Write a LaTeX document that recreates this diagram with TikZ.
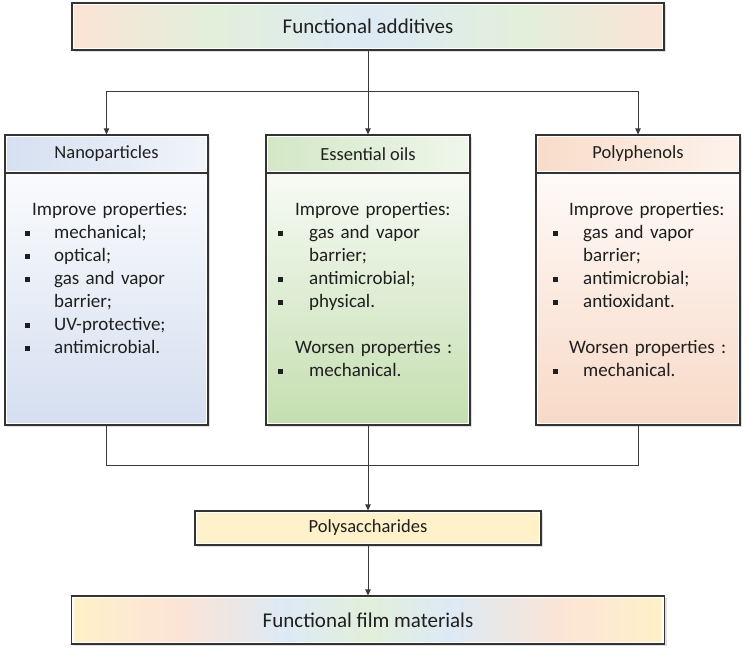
\documentclass[tikz,border=0pt]{standalone}
\usepackage{fontspec}
\setmainfont{Carlito}
\usetikzlibrary{arrows.meta,shadows}

\definecolor{ink}{HTML}{1F1F1F}
\definecolor{frame}{HTML}{333333}
\definecolor{wire}{HTML}{3A3A3A}
\definecolor{peach}{HTML}{FBE4D6}
\definecolor{mint}{HTML}{E2EFDB}
\definecolor{sky}{HTML}{DDEAF5}
\definecolor{cream}{HTML}{FFF1C9}
\definecolor{nanobody}{HTML}{D5DFF0}
\definecolor{nanohead}{HTML}{D6E0F1}
\definecolor{oilsbody}{HTML}{C4DEB0}
\definecolor{oilshead}{HTML}{D3E7C6}
\definecolor{polybody}{HTML}{F8D9C7}
\definecolor{polyhead}{HTML}{F9DCCA}

\pgfdeclarehorizontalshading{additives}{100bp}{color(0bp)=(peach); color(25bp)=(peach);
  color(37bp)=(mint); color(50bp)=(sky); color(63bp)=(mint); color(75bp)=(peach); color(100bp)=(peach)}
\pgfdeclarehorizontalshading{filmshade}{100bp}{color(0bp)=(cream); color(25bp)=(cream);
  color(34bp)=(peach); color(43bp)=(sky); color(50bp)=(mint); color(57bp)=(sky);
  color(66bp)=(peach); color(75bp)=(cream); color(100bp)=(cream)}

% bullet square of the property lists
\newcommand{\bul}[1]{\makebox[#1][l]{\rule[2pt]{5pt}{5pt}}}

\tikzset{
  inset/.style={path picture={\shade[#1]
      ([shift={(2.5pt,-2.5pt)}]path picture bounding box.north west) rectangle
      ([shift={(-2.5pt,2.5pt)}]path picture bounding box.south east);}},
  headbox/.style={draw=frame, line width=1.2pt, fill=white, inner sep=0pt, text=ink,
    font=\fontsize{18.5}{22}\selectfont},
  box/.style={headbox, drop shadow={opacity=0.25, shadow xshift=2pt, shadow yshift=-2pt}},
  txt/.style={inner sep=0pt, text width=190pt, align=left, anchor=base west, text=ink,
    font=\fontsize{19}{23}\selectfont},
  conn/.style={draw=wire, line width=0.8pt},
  arr/.style={conn, -{Triangle[length=6pt,width=5.5pt]}}
}

\begin{document}
\begin{tikzpicture}[x=1pt, y=-1pt]
  \useasboundingbox (0,0) rectangle (749,654);

  % top
  \node[box, inset={shading=additives}, minimum width=592pt, minimum height=47pt,
    font=\fontsize{21}{25}\selectfont] (add) at (368,26.5) {Functional additives};

  % three columns
  \node[box, inset={top color=white, bottom color=nanobody},
    minimum width=203pt, minimum height=290pt] (nano) at (106.5,280) {};
  \node[headbox, inset={left color=nanohead, right color=nanohead!35!white},
    minimum width=203pt, minimum height=38pt, anchor=north] (nanohead) at (nano.north) {Nanoparticles};

  \node[box, inset={top color=white, bottom color=oilsbody},
    minimum width=204pt, minimum height=290pt] (oils) at (368,280) {};
  \node[headbox, inset={left color=oilshead, right color=oilshead!35!white},
    minimum width=204pt, minimum height=38pt, anchor=north] (oilshead) at (oils.north) {Essential oils};

  \node[box, inset={top color=white, bottom color=polybody},
    minimum width=204pt, minimum height=290pt] (poly) at (638,280) {};
  \node[headbox, inset={left color=polyhead, right color=polyhead!35!white},
    minimum width=204pt, minimum height=38pt, anchor=north] (polyhead) at (poly.north) {Polyphenols};

  \node[txt] (nanotxt) at (25,215) {\hspace*{7pt}Improve properties:\\
    \bul{29pt}mechanical;\\
    \bul{29pt}optical;\\
    \bul{29pt}gas and vapor\\
    \hspace*{29pt}barrier;\\
    \bul{29pt}UV-protective;\\
    \bul{29pt}antimicrobial.};

  \node[txt] (oilstxt) at (278,215) {\hspace*{17pt}Improve properties:\\
    \bul{31pt}gas and vapor\\
    \hspace*{31pt}barrier;\\
    \bul{31pt}antimicrobial;\\
    \bul{31pt}physical.\\[23pt]
    \hspace*{17pt}Worsen properties :\\
    \bul{31pt}mechanical.};

  \node[txt] (polytxt) at (553,215) {\hspace*{16pt}Improve properties:\\
    \bul{30pt}gas and vapor\\
    \hspace*{30pt}barrier;\\
    \bul{30pt}antimicrobial;\\
    \bul{30pt}antioxidant.\\[23pt]
    \hspace*{16pt}Worsen properties :\\
    \bul{30pt}mechanical.};

  % bottom
  \node[box, inset={left color=cream, right color=cream}, minimum width=346pt, minimum height=34pt]
    (sacch) at (368,528) {Polysaccharides};
  \node[box, inset={shading=filmshade}, minimum width=593pt, minimum height=48pt,
    font=\fontsize{21}{25}\selectfont] (film) at (368,620) {Functional film materials};

  % connectors
  \coordinate (fork) at (368,91);
  \coordinate (merge) at (368,465);
  \draw[conn] (add.south) -- (fork);
  \draw[arr] (fork) -| (nanohead.north);
  \draw[arr] (fork) -- (oilshead.north);
  \draw[arr] (fork) -| (polyhead.north);
  \draw[conn] (nano.south) |- (merge);
  \draw[conn] (poly.south) |- (merge);
  \draw[arr] (oils.south) -- (sacch.north);
  \draw[arr] (sacch.south) -- (film.north);
\end{tikzpicture}
\end{document}
